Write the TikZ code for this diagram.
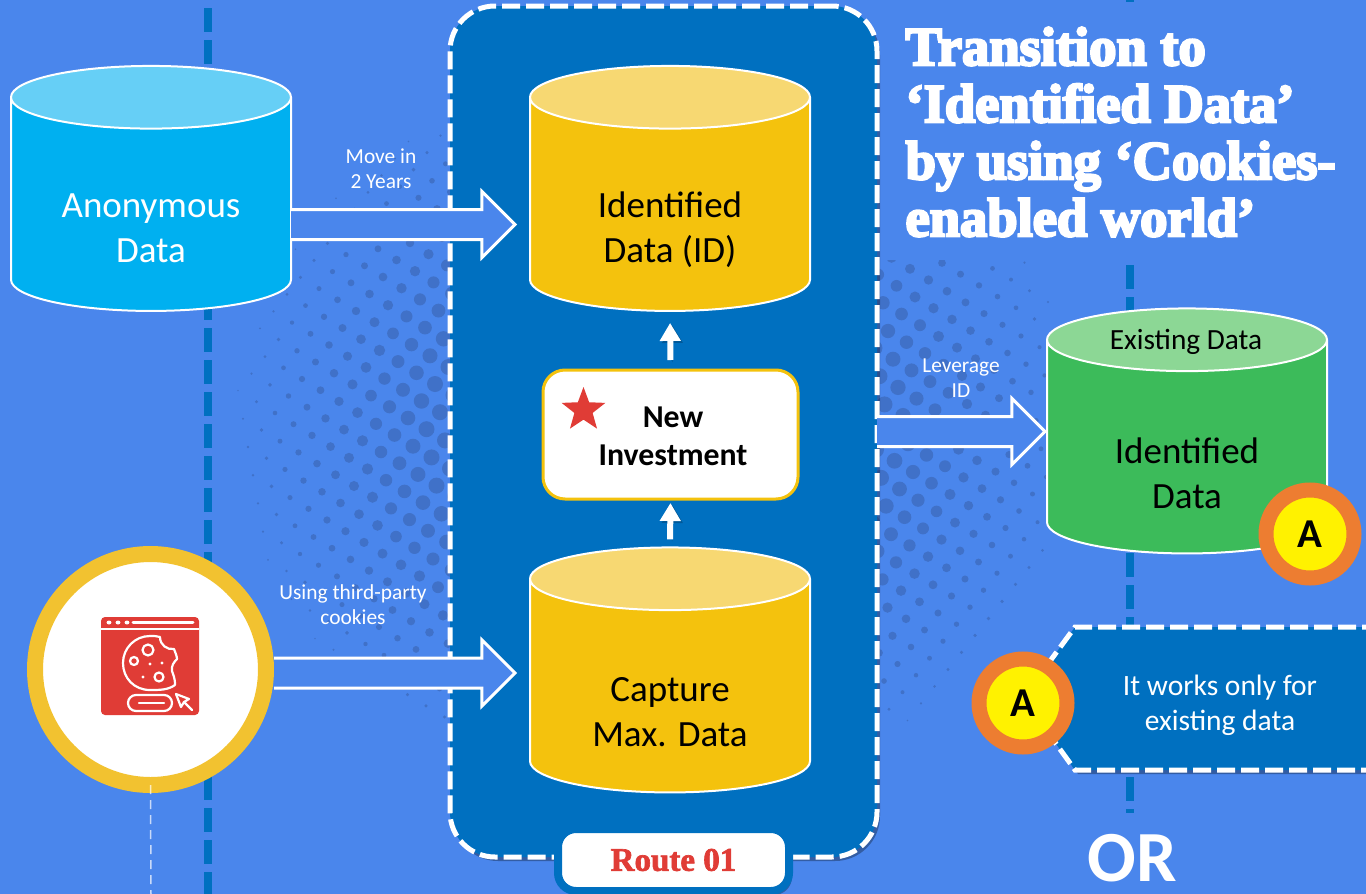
\documentclass[tikz,border=0pt]{standalone}
\usepackage{fontspec}
\setmainfont{Carlito}
\newfontfamily\titlefont[FakeBold=4.5]{Liberation Serif Bold}
\newfontfamily\routefont[FakeBold=2]{Liberation Serif Bold}
\usetikzlibrary{shapes.geometric,arrows.meta,calc,shadows}
\definecolor{bgblue}{HTML}{4A86EC}
\definecolor{panelblue}{HTML}{0070C0}
\definecolor{dotblue}{HTML}{4071C8}
\definecolor{dbyellow}{HTML}{F4C20D}
\definecolor{dbyellowtop}{HTML}{F7D872}
\definecolor{dbcyan}{HTML}{00B0F0}
\definecolor{dbcyantop}{HTML}{66CFF6}
\definecolor{dbgreen}{HTML}{3CBB5A}
\definecolor{dbgreentop}{HTML}{8CD795}
\definecolor{cookiered}{HTML}{E03C36}
\definecolor{ringgold}{HTML}{F2C230}
\definecolor{badgeorange}{HTML}{ED7D31}
\tikzset{
  database/.style={cylinder, shape border rotate=90, aspect=9.4, draw=white, line width=2pt,
    minimum width=280pt, minimum height=245pt, outer sep=0pt, cylinder uses custom fill},
  dbtext/.style={font=\fontsize{37}{45}\selectfont, align=center, text=black},
  smalltext/.style={font=\fontsize{21.4}{25.5}\selectfont, align=center, text=white},
  blockarrow/.style={draw=white, line width=3pt, fill=bgblue, miter limit=10,
    to path={let \p1=(\tikztostart), \p2=(\tikztotarget) in
      (\x1,\y1+15pt) -- (\x2-33pt,\y1+15pt) -- (\x2-33pt,\y1+33pt) -- (\x2,\y1)
      -- (\x2-33pt,\y1-33pt) -- (\x2-33pt,\y1-15pt) -- (\x1,\y1-15pt)}},
  uparrow/.style={draw=white, line width=6pt, -{Triangle[width=20pt,length=18pt]},
    preaction={draw=black, opacity=.2, transform canvas={xshift=2pt,yshift=-2pt}}},
  routeline/.style={draw=panelblue, line width=8pt, dash pattern=on 24pt off 8pt},
  whitedash/.style={draw=white, line width=5pt, dash pattern=on 18pt off 6pt},
  softshadow/.style={drop shadow={shadow xshift=3pt, shadow yshift=-4pt, opacity=.3, fill=black}},
  badge/.style={circle, draw=badgeorange, fill=yellow, line width=15pt, minimum size=88pt,
    inner sep=0pt, font=\fontsize{41}{41}\selectfont\bfseries, text=black},
  iconline/.style={draw=white, line width=2.2pt, line cap=round, line join=round}
}

\begin{document}
\begin{tikzpicture}[x=1pt,y=-1pt]

\useasboundingbox (0,0) rectangle (1366,894);
\fill [bgblue] (0,0) rectangle (1366,894);

\foreach \i in {-32,...,32} {
  \foreach \j in {-32,...,32} {
    \pgfmathsetmacro{\dotx}{383+18.5*\i-13.5*\j}
    \pgfmathsetmacro{\doty}{277+11.2*\i+17*\j}
    \pgfmathsetmacro{\dotd}{sqrt(((\dotx-660)/425)^2+((\doty-430)/360)^2)}
    \pgfmathparse{\dotd<1 ? 1 : 0}
    \ifnum\pgfmathresult=1
      \pgfmathsetmacro{\dotr}{min(8,0.8+16*(1-\dotd))}
      \fill [dotblue] (\dotx,\doty) circle (\dotr pt);
    \fi
  }
}
\fill [bgblue] (880,0) rectangle (1366,260);

\coordinate (lefttop) at (208,-24);
\coordinate (leftbottom) at (208,894);
\draw [routeline] (lefttop) -- (leftbottom);
\coordinate (righttop) at (1130,-22);
\coordinate (righttopend) at (1130,2);
\draw [routeline] (righttop) -- (righttopend);
\coordinate (rightstart) at (1130,265);
\coordinate (rightend) at (1130,813);
\draw [routeline] (rightstart) -- (rightend);

\node [whitedash, fill=panelblue, rounded corners=45pt, minimum width=427pt, minimum height=851pt,
  outer sep=0pt, softshadow] (panel) at (663.5,431.5) {};

\node [database, cylinder body fill=dbcyan, cylinder end fill=dbcyantop] (anon) at (151,208) {};
\node [database, cylinder body fill=dbyellow, cylinder end fill=dbyellowtop] (identified) at (670,208) {};
\node [database, cylinder body fill=dbyellow, cylinder end fill=dbyellowtop] (capture) at (670,689.5) {};
\node [database, cylinder body fill=dbgreen, cylinder end fill=dbgreentop] (existing) at (1187,450.5) {};

\node [dbtext, text=white] (anontext) at (151,228) {Anonymous\\Data};
\node [dbtext] (identifiedtext) at (670,230) {Identified\\Data (ID)};
\node [dbtext] (capturetext) at (670,712) {Capture\\Max. Data};
\node [dbtext] (existingtext) at (1187,473) {Identified\\Data};
\node [font=\fontsize{29.3}{30}\selectfont, text=black] (existinghead) at (1186,342) {Existing Data};

\node [draw=dbyellow, fill=white, line width=3pt, rounded corners=22pt, minimum width=255pt,
  minimum height=129pt, outer sep=0pt] (invest) at (670.5,434.5) {};
\node [font=\fontsize{31.8}{38}\selectfont\bfseries, align=center, text=black] (investtext) at (673,436) {New\\Investment};
\node [star, star points=5, star point ratio=2.4, fill=cookiered, minimum size=46pt, inner sep=0pt] (investstar) at (583.5,410) {};

\draw [uparrow, shorten <=8pt, shorten >=4pt] (capture.north) -- (invest.south);
\draw [uparrow, shorten <=10pt, shorten >=12pt] (invest.north) -- (identified.south);

\node [circle, draw=ringgold, fill=white, line width=16pt, minimum size=231pt, outer sep=0pt] (ring) at (150.5,669.5) {};
\coordinate (ringdown) at (151,894);
\draw [white, opacity=.7, line width=1.5pt, dash pattern=on 9pt off 6pt] (ring.south) -- (ringdown);

\fill [cookiered, rounded corners=4pt] (101,617) rectangle (199,715);
\draw [white, line width=1.4pt] (101,629) -- (199,629);
\draw [iconline, line width=3pt] (133,622.5) -- (193,622.5);
\foreach \x in {109,118,127} {
  \fill [white] (\x,622.5) ellipse (2.4pt and 2pt);
}
\draw [iconline] (175,685) .. controls (168,690) and (160,690) .. (150,690)
  .. controls (134,690) and (123,678) .. (123,663)
  .. controls (123,648) and (135,636) .. (150,636)
  .. controls (154,636) and (157,636) .. (160,637)
  .. controls (160,645) and (167,650) .. (174,649)
  .. controls (175,652) and (177,656) .. (177,659)
  .. controls (174,662) and (171,666) .. (172,671)
  .. controls (173,675) and (175,677) .. (175,685);
\draw [iconline] (148,650) circle (5.5pt);
\draw [iconline] (134,661) circle (4pt);
\draw [iconline] (159,677) circle (4.5pt);
\foreach \x/\y in {150/664,162/663,143/677} {
  \fill [white] (\x,\y) circle (1.6pt);
}
\draw [iconline, rounded corners=8pt] (128,695) rectangle (172,711);
\draw [iconline] (139,703) -- (164,703);
\draw [iconline] (176,694) -- (189,699) -- (184,702) -- (192,710);
\draw [iconline] (176,694) -- (181,707) -- (184,702);

\draw [blockarrow] ($(anon.east)+(0,16.5)$) to ($(identified.west)+(-15,16.5)$);
\draw [blockarrow] ($(ring.east)+(8,3.5)$) to ($(capture.west)+(-15,-16.5)$);
\draw [blockarrow] (panel.east) to ($(existing.west)+(-2,-19.5)$);

\node [smalltext] (movetext) at (381,168.5) {Move in\\2 Years};
\node [smalltext] (cookietext) at (353,604.5) {Using third-party\\cookies};
\node [smalltext] (leveragetext) at (961,378) {Leverage\\ID};

\coordinate (callouttop) at (1380,627);
\coordinate (calloutbottom) at (1380,770);
\draw [whitedash, fill=panelblue, softshadow] (callouttop) -- (1075,627) -- (1023,698) -- (1075,770) -- (calloutbottom);
\node [font=\fontsize{29.5}{35}\selectfont, align=center, text=white] (callouttext) at (1220,705) {It works only for\\existing data};

\node [badge] (badgeone) at (1310,534) {A};
\node [badge] (badgetwo) at (1023,703) {A};

\node [draw=panelblue, fill=white, line width=8pt, rounded corners=18pt, minimum width=231pt,
  minimum height=62pt, outer sep=0pt, softshadow, font=\routefont\fontsize{33}{33}\selectfont, text=cookiered] (route) at (673.5,860) {Route 01};

\node [anchor=west, align=left, font=\titlefont\fontsize{54.5}{57}\selectfont, text=white] (title) at (902,132)
  {Transition to\\‘Identified Data’\\by using ‘Cookies-\\enabled world’};

\node [font=\fontsize{72}{72}\selectfont\bfseries, text=white, inner sep=0pt] (ortext) at (1132,858) {OR};

\end{tikzpicture}
\end{document}
